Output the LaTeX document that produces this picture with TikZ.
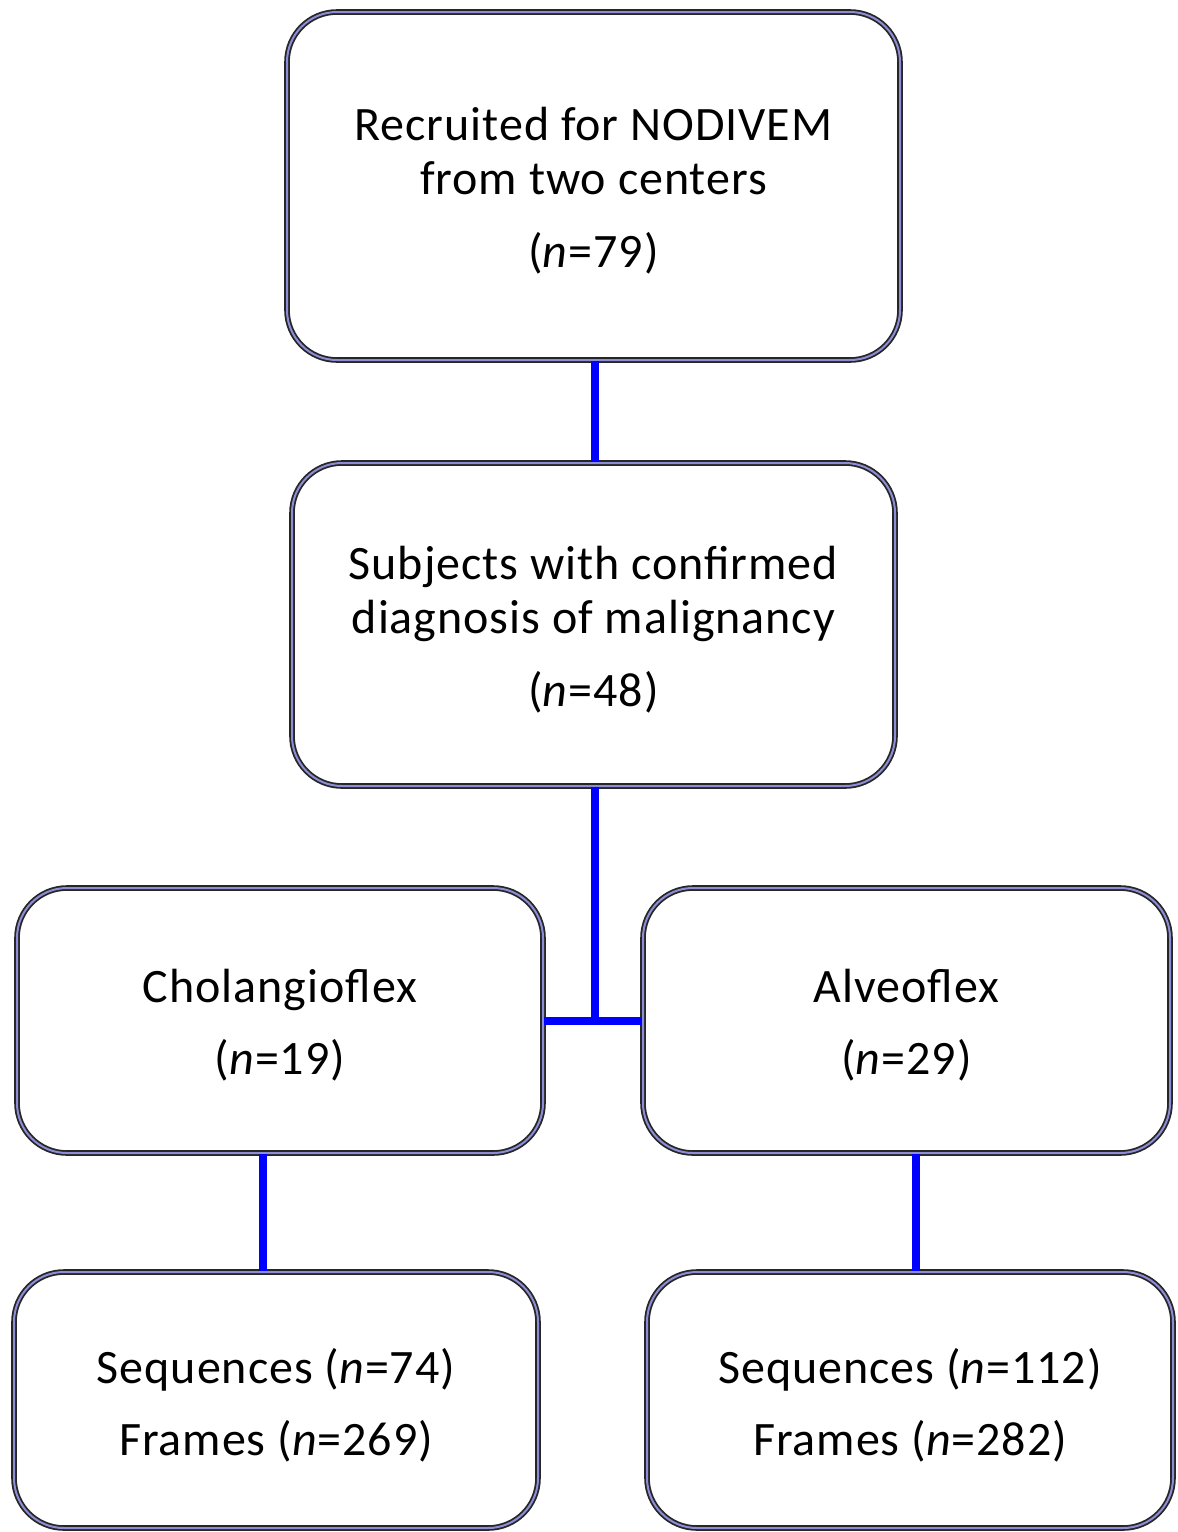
\documentclass[tikz,border=0pt]{standalone}
\usepackage{fontspec}
\setmainfont{Carlito}[LetterSpace=2]
\begin{document}
\begin{tikzpicture}[x=0.5pt,y=-0.5pt,
  box/.style={draw=black!85, double=black!35!blue!45, double distance=1pt, line width=0.9pt,
    rounded corners=25pt, inner sep=0pt},
  txt/.style={align=center, inner sep=0pt, font=\fontsize{24}{27}\selectfont},
  conn/.style={draw=blue, line width=4pt}]
\useasboundingbox (0,0) rectangle (1178,1532);
\node[box, minimum width=306.5pt, minimum height=174pt] (a) at (593.5,186) {};
\node[box, minimum width=301.5pt, minimum height=161.5pt] (b) at (593.5,624.5) {};
\node[box, minimum width=263pt, minimum height=132.5pt] (c) at (280,1020.5) {};
\node[box, minimum width=263.5pt, minimum height=132.5pt] (d) at (906.5,1020.5) {};
\node[box, minimum width=262pt, minimum height=128pt] (e) at (276,1400) {};
\node[box, minimum width=263pt, minimum height=128pt] (f) at (910,1400) {};
\node[txt] (ta) at ([yshift=-2.5pt]a.center)
  {Recruited for NODIVEM\\from two centers\\[9.5pt](\textit{n}=79)};
\node[txt] (tb) at ([yshift=-2.5pt]b.center)
  {Subjects with confirmed\\diagnosis of malignancy\\[9.5pt](\textit{n}=48)};
\node[txt] (tc) at ([yshift=-2.5pt]c.center) {Cholangioflex\\[9pt](\textit{n}=19)};
\node[txt] (td) at ([yshift=-2.5pt]d.center) {Alveoflex\\[9pt](\textit{n}=29)};
\node[txt] (te) at ([yshift=-2.5pt]e.center)
  {Sequences (\textit{n}=74)\\[9pt]Frames (\textit{n}=269)};
\node[txt] (tf) at ([yshift=-2.5pt]f.center)
  {Sequences (\textit{n}=112)\\[9pt]Frames (\textit{n}=282)};
\coordinate (mx) at (595,0);
\coordinate (lx) at (263,0);
\coordinate (rx) at (916,0);
\draw[conn] (a.south -| mx) -- (b.north -| mx);
\draw[conn] (b.south -| mx) -- (c.east -| mx);
\draw[conn] (c.east) -- (d.west);
\draw[conn] (c.south -| lx) -- (e.north -| lx);
\draw[conn] (d.south -| rx) -- (f.north -| rx);
\end{tikzpicture}
\end{document}
